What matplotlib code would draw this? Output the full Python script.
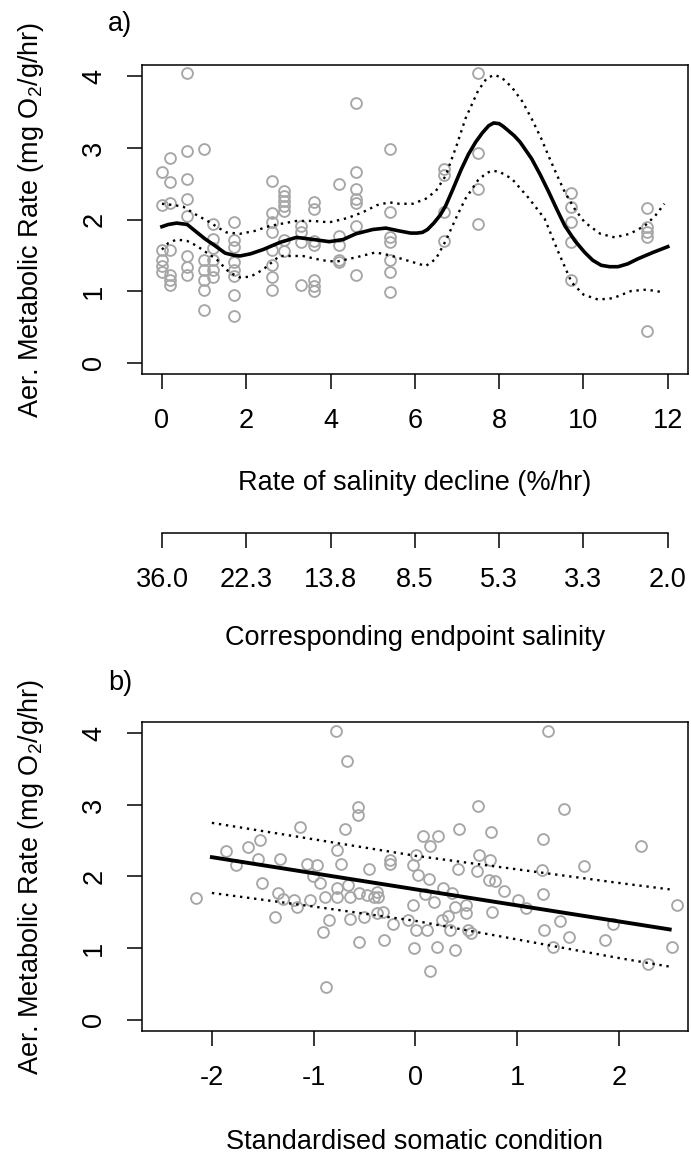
import matplotlib
matplotlib.use("Agg")
import matplotlib.pyplot as plt

plt.rcParams['font.family'] = ['Liberation Sans', 'DejaVu Sans']
plt.rcParams['mathtext.fontset'] = 'custom'
plt.rcParams['mathtext.rm'] = 'Liberation Sans'
plt.rcParams['mathtext.default'] = 'regular'

FS = 19.5
PT_GREY = '#a6a6a6'

# ---- panel a: metabolic rate vs rate of salinity decline ----
rate = ([0.0] * 6 + [0.2] * 7 + [0.6] * 8 + [1.0] * 6 + [1.2] * 6 + [1.7] * 8
        + [2.6] * 8 + [2.9] * 7 + [3.3] * 4 + [3.6] * 7 + [4.2] * 5 + [4.6] * 7
        + [5.4] * 7 + [6.7] * 4 + [7.5] * 4 + [9.7] * 5 + [11.5] * 5)
mr_a = [2.66, 2.20, 1.58, 1.44, 1.35, 1.26,
        2.86, 2.52, 2.23, 1.57, 1.23, 1.16, 1.09,
        4.05, 2.96, 2.56, 2.29, 2.05, 1.49, 1.33, 1.23,
        2.99, 1.44, 1.30, 1.16, 1.02, 0.74,
        1.94, 1.73, 1.60, 1.44, 1.30, 1.19,
        1.96, 1.72, 1.61, 1.40, 1.30, 1.21, 0.95, 0.65,
        2.54, 2.09, 1.96, 1.83, 1.58, 1.37, 1.19, 1.02,
        2.40, 2.33, 2.26, 2.19, 2.12, 1.72, 1.56,
        1.91, 1.82, 1.68, 1.08,
        2.24, 2.15, 1.70, 1.64, 1.16, 1.07, 1.00,
        2.50, 1.77, 1.65, 1.44, 1.41,
        3.63, 2.66, 2.42, 2.29, 2.23, 1.91, 1.23,
        2.98, 2.10, 1.75, 1.68, 1.44, 1.26, 0.98,
        2.71, 2.62, 2.10, 1.70,
        4.05, 2.93, 2.43, 1.94,
        2.37, 2.17, 1.97, 1.69, 1.15,
        2.16, 1.90, 1.82, 1.75, 0.44]

# fitted smooth and its confidence band
fit_x = [0.0, 0.15, 0.35, 0.6, 0.83, 1.02, 1.22, 1.5, 1.7, 1.85, 2.1, 2.4, 2.8, 3.19,
         3.6, 3.97, 4.3, 4.6, 5.0, 5.31, 5.63, 5.9, 6.05, 6.18, 6.3, 6.45, 6.6, 6.73,
         6.9, 7.1, 7.27, 7.44, 7.6, 7.75, 7.87, 8.0, 8.1, 8.22, 8.36, 8.5, 8.77,
         8.98, 9.18, 9.37, 9.56, 9.8, 10.03, 10.22, 10.42, 10.62, 10.82, 11.05,
         11.29, 11.65, 12.0]
fit_y = [1.90, 1.93, 1.95, 1.93, 1.82, 1.73, 1.65, 1.53, 1.50, 1.49, 1.52, 1.58, 1.68,
         1.75, 1.72, 1.69, 1.72, 1.80, 1.86, 1.88, 1.84, 1.81, 1.81, 1.82, 1.86, 1.95,
         2.06, 2.19, 2.42, 2.70, 2.91, 3.08, 3.21, 3.31, 3.35, 3.34, 3.30, 3.24, 3.17,
         3.08, 2.85, 2.62, 2.38, 2.14, 1.91, 1.70, 1.54, 1.43, 1.36, 1.34, 1.34, 1.38,
         1.45, 1.54, 1.62]
up_x = [0.0, 0.3, 0.5, 0.8, 1.14, 1.35, 1.53, 1.85, 2.2, 2.56, 3.19, 3.6, 3.97, 4.4,
        4.76, 5.1, 5.39, 5.63, 5.95, 6.26, 6.5, 6.73, 7.0, 7.2, 7.5, 7.7, 7.87, 8.05,
        8.3, 8.55, 8.77, 9.0, 9.2, 9.38, 9.56, 9.8, 10.03, 10.4, 10.74, 11.1, 11.45,
        11.7, 11.92]
up_y = [2.22, 2.20, 2.18, 2.07, 1.96, 1.88, 1.82, 1.80, 1.84, 1.91, 1.98, 1.98, 1.96,
        2.02, 2.10, 2.20, 2.24, 2.22, 2.22, 2.29, 2.40, 2.61, 3.05, 3.41, 3.80, 3.97,
        4.02, 3.99, 3.85, 3.65, 3.41, 3.13, 2.85, 2.61, 2.38, 2.14, 1.96, 1.80, 1.75,
        1.80, 1.91, 2.05, 2.22]
lo_x = [0.0, 0.15, 0.35, 0.6, 0.83, 1.3, 1.6, 1.85, 2.1, 2.4, 2.79, 3.34, 3.8, 4.13,
        4.6, 5.07, 5.4, 5.86, 6.26, 6.5, 6.73, 7.0, 7.2, 7.5, 7.7, 7.83, 8.0, 8.3, 8.7,
        9.08, 9.4, 9.72, 10.0, 10.35, 10.7, 11.13, 11.5, 11.92]
lo_y = [1.58, 1.67, 1.72, 1.70, 1.63, 1.44, 1.26, 1.19, 1.20, 1.30, 1.49, 1.49, 1.43,
        1.41, 1.47, 1.54, 1.50, 1.42, 1.35, 1.45, 1.70, 2.05, 2.29, 2.55, 2.65, 2.68,
        2.67, 2.57, 2.30, 2.01, 1.55, 1.12, 0.95, 0.88, 0.90, 1.00, 1.02, 0.98]

rate_ticks = [0, 2, 4, 6, 8, 10, 12]
salinity_labels = ['36.0', '22.3', '13.8', '8.5', '5.3', '3.3', '2.0']

# ---- panel b: metabolic rate vs somatic condition ----
cond = [-0.78, -0.67, -0.56, -0.56, -1.13, -0.69, -1.86, -1.65, -1.53, -1.76, -1.55,
        -1.33, -1.07, -0.97, -0.77, -0.73, -0.46, -0.25, -0.25, -0.02, 0.01, -1.51,
        -1.01, -0.94, -2.16, -1.35, -1.30, -1.19, -1.16, -1.04, -0.89, -0.77, -0.77,
        -0.66, -0.64, -0.55, -0.48, -0.41, -0.38, -0.37, -1.38, -0.85, -0.91, -0.64,
        -0.50, -0.38, -0.32, -0.55, -0.31, -0.22, -0.07, -0.02, -0.01, 0.005, -0.88,
        1.30, 0.62, 1.46, 0.43, 0.74, 0.08, 0.22, 1.25, 0.14, 2.22, 0.63, 0.73, 1.66,
        0.42, 0.61, 1.24, 0.03, 0.13, 0.72, 0.78, 0.87, 1.25, 0.27, 0.36, 0.09, 0.18,
        0.39, 0.50, 1.01, 1.09, 0.75, 2.57, 0.32, 0.26, 0.50, 1.42, 1.94, 0.11, 0.34,
        0.52, 0.55, 1.26, 1.51, 1.86, 1.35, 2.52, 0.21, 0.39, 2.29, 0.14]
mr_b = [4.04, 3.61, 2.97, 2.86, 2.69, 2.66, 2.36, 2.41, 2.51, 2.16, 2.24,
        2.24, 2.18, 2.16, 2.37, 2.17, 2.11, 2.23, 2.18, 2.16, 2.30, 1.91,
        2.00, 1.91, 1.70, 1.77, 1.68, 1.67, 1.57, 1.67, 1.72, 1.84, 1.72,
        1.88, 1.72, 1.77, 1.74, 1.72, 1.79, 1.71, 1.43, 1.39, 1.22, 1.41,
        1.44, 1.49, 1.51, 1.08, 1.11, 1.34, 1.39, 1.60, 1.00, 1.25, 0.46,
        4.04, 2.98, 2.94, 2.66, 2.62, 2.56, 2.56, 2.53, 2.42, 2.42, 2.30, 2.23, 2.15,
        2.11, 2.07, 2.09, 2.02, 1.96, 1.95, 1.94, 1.80, 1.76, 1.84, 1.77, 1.76, 1.65,
        1.58, 1.60, 1.67, 1.56, 1.51, 1.60, 1.45, 1.39, 1.49, 1.38, 1.34, 1.25, 1.25,
        1.25, 1.21, 1.25, 1.15, 1.11, 1.02, 1.02, 1.02, 0.97, 0.77, 0.68]

line_x = [-2.0, 2.5]
line_y = [2.27, 1.26]
band_x = [-2.0, -1.0, 0.0, 1.0, 2.0, 2.5]
band_up = [2.75, 2.52, 2.29, 2.10, 1.91, 1.82]
band_lo = [1.77, 1.58, 1.38, 1.12, 0.86, 0.74]

cond_ticks = [-2, -1, 0, 1, 2]
mr_ticks = [0, 1, 2, 3, 4]

# ---- figure ----
W, H = 691, 1156
fig = plt.figure(figsize=(W / 100, H / 100), dpi=100)


def frac_box(left, top, right, bottom):
    return [left / W, 1 - bottom / H, (right - left) / W, (bottom - top) / H]


TICK_LEN = 10.8
DOT = (0, (1.0, 2.0))
YLABEL = 'Aer. Metabolic Rate (mg O$_2$/g/hr)'
MARK = dict(ls='none', marker='o', ms=7.8, mfc='none', mec=PT_GREY, mew=1.35, zorder=2)


def style_axes(ax):
    for s in ax.spines.values():
        s.set_linewidth(1.1)
    ax.tick_params(direction='out', length=TICK_LEN, width=1.1, labelsize=FS, pad=14)
    ax.set_yticks(mr_ticks)
    ax.set_yticklabels([str(t) for t in mr_ticks], rotation=90, va='center')
    ax.set_ylim(-0.16, 4.16)
    ax.set_ylabel(YLABEL, fontsize=FS)
    ax.yaxis.set_label_coords(-0.203, 0.5)
    ax.yaxis.label.set_va('center')


# panel a
ax1 = fig.add_axes(frac_box(141.7, 65, 688, 374))
ax1.plot(rate, mr_a, **MARK)
ax1.plot(fit_x, fit_y, color='black', lw=2.6, zorder=3, solid_joinstyle='round')
ax1.plot(up_x, up_y, color='black', lw=1.7, ls=DOT, zorder=3)
ax1.plot(lo_x, lo_y, color='black', lw=1.7, ls=DOT, zorder=3)
ax1.set_xlim(-0.48, 12.48)
ax1.set_xticks(rate_ticks)
ax1.set_xticklabels([str(t) for t in rate_ticks])
style_axes(ax1)
ax1.set_xlabel('Rate of salinity decline (%/hr)', fontsize=FS)
ax1.xaxis.set_label_coords(0.5, -0.353)
ax1.xaxis.label.set_va('center')

# endpoint salinity scale under panel a
ax_s = fig.add_axes(frac_box(141.7, 532, 688, 533))
ax_s.set_xlim(-0.48, 12.48)
ax_s.set_ylim(0, 1)
for side in ('top', 'left', 'right'):
    ax_s.spines[side].set_visible(False)
ax_s.spines['bottom'].set_bounds(0, 12)
ax_s.spines['bottom'].set_linewidth(1.1)
ax_s.set_yticks([])
ax_s.set_xticks(rate_ticks)
ax_s.set_xticklabels(salinity_labels)
ax_s.tick_params(direction='out', length=TICK_LEN, width=1.1, labelsize=FS, pad=14)
ax_s.patch.set_visible(False)
fig.text(415 / W, 1 - 638 / H, 'Corresponding endpoint salinity',
         fontsize=FS, ha='center', va='center')

# panel b
ax2 = fig.add_axes(frac_box(141.7, 722, 688, 1031))
ax2.plot(cond, mr_b, **MARK)
ax2.plot(line_x, line_y, color='black', lw=2.8, zorder=3)
ax2.plot(band_x, band_up, color='black', lw=1.7, ls=DOT, zorder=3)
ax2.plot(band_x, band_lo, color='black', lw=1.7, ls=DOT, zorder=3)
ax2.set_xlim(-2.69, 2.68)
ax2.set_xticks(cond_ticks)
ax2.set_xticklabels([str(t) for t in cond_ticks])
style_axes(ax2)
ax2.set_xlabel('Standardised somatic condition', fontsize=FS)
ax2.xaxis.set_label_coords(0.5, -0.359)
ax2.xaxis.label.set_va('center')

fig.text(120 / W, 1 - 24 / H, 'a)', fontsize=FS, ha='center', va='center')
fig.text(120 / W, 1 - 683 / H, 'b)', fontsize=FS, ha='center', va='center')

fig.savefig('out.png', dpi=100)
